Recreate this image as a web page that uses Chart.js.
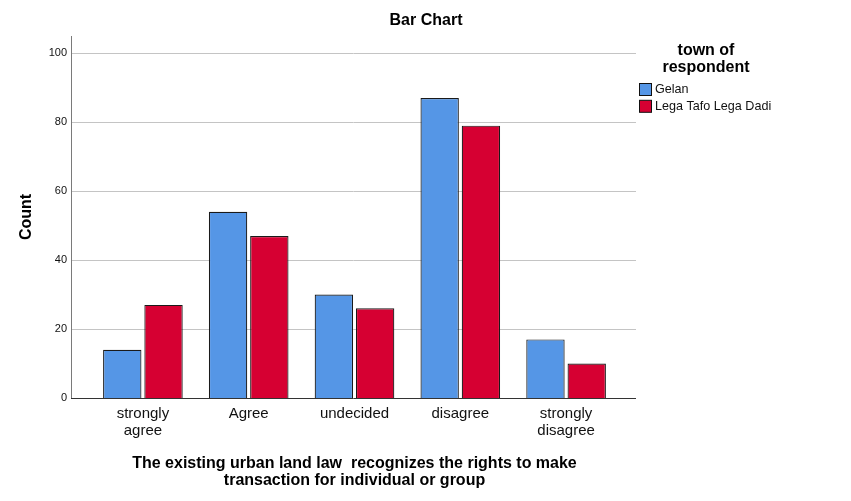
<!DOCTYPE html>
<html>
<head>
<meta charset="utf-8">
<script src="https://cdn.jsdelivr.net/npm/chart.js@4"></script>
<style>
  html, body { margin: 0; padding: 0; background: #ffffff; }
  canvas { display: block; }
</style>
</head>
<body>
<canvas id="c" width="851" height="501"></canvas>
<script>
// ---- data ----
const categories = [['strongly', 'agree'], 'Agree', 'undecided', 'disagree', ['strongly', 'disagree']];
const gelan = [14, 54, 30, 87, 17];
const legaTafoLegaDadi = [27, 47, 26, 79, 10];
const seriesNames = ['Gelan', 'Lega Tafo Lega Dadi'];
const legendTitle = ['town of', 'respondent'];
const chartTitle = 'Bar Chart';
const xTitle = ['The existing urban land law  recognizes the rights to make', 'transaction for individual or group'];
const yTitle = 'Count';

const FONT = '"Liberation Sans", Arial, Helvetica, sans-serif';
Chart.defaults.font.family = FONT;

const GRID_LEFT = 71, GRID_RIGHT = 636;

const frame = {
  id: 'frame',
  beforeDatasetsDraw(chart) {
    const ctx = chart.ctx, y = chart.scales.y, area = chart.chartArea;
    ctx.save();
    ctx.lineWidth = 1;
    ctx.strokeStyle = '#c4c4c4';
    y.ticks.forEach(t => {
      if (t.value === 0) return;
      const py = Math.round(y.getPixelForValue(t.value)) + 0.5;
      ctx.beginPath(); ctx.moveTo(GRID_LEFT, py); ctx.lineTo(GRID_RIGHT, py); ctx.stroke();
    });
    ctx.strokeStyle = '#7a7a7a';
    ctx.beginPath(); ctx.moveTo(GRID_LEFT + 0.5, area.top); ctx.lineTo(GRID_LEFT + 0.5, area.bottom); ctx.stroke();
    ctx.restore();
  },
  afterDatasetsDraw(chart) {
    const ctx = chart.ctx, area = chart.chartArea;
    ctx.save();
    ctx.lineWidth = 1;
    ctx.strokeStyle = '#333333';
    const py = Math.round(area.bottom) + 0.5;
    ctx.beginPath(); ctx.moveTo(GRID_LEFT, py); ctx.lineTo(GRID_RIGHT, py); ctx.stroke();
    ctx.restore();
  },
  afterDraw(chart) {
    const ctx = chart.ctx;
    ctx.save();
    ctx.fillStyle = '#000000';
    ctx.textAlign = 'center';
    ctx.textBaseline = 'middle';
    ctx.font = 'bold 16px ' + FONT;
    ctx.fillText(chartTitle, 426, 21);
    legendTitle.forEach((line, i) => ctx.fillText(line, 706, 51 + i * 16.5));
    ctx.font = '12.6px ' + FONT;
    ctx.textAlign = 'left';
    chart.data.datasets.forEach((ds, i) => {
      const by = 83.5 + i * 16.8;
      ctx.fillStyle = ds.backgroundColor;
      ctx.fillRect(639.5, by, 12, 12);
      ctx.strokeStyle = '#111111';
      ctx.lineWidth = 1;
      ctx.strokeRect(639.5, by, 12, 12);
      ctx.fillStyle = '#111111';
      ctx.fillText(ds.label, 655, by + 6.5);
    });
    ctx.restore();
  }
};

new Chart(document.getElementById('c'), {
  type: 'bar',
  data: {
    labels: categories,
    datasets: [
      { label: seriesNames[0], data: gelan, backgroundColor: '#5596e6', borderColor: '#1a1a1a', borderWidth: 1.2 },
      { label: seriesNames[1], data: legaTafoLegaDadi, backgroundColor: '#d60032', borderColor: '#1a1a1a', borderWidth: 1.2 }
    ]
  },
  options: {
    responsive: false,
    animation: false,
    events: [],
    categoryPercentage: 0.78,
    barPercentage: 0.93,
    layout: { padding: { left: 0, right: 232, top: 36, bottom: 0 } },
    plugins: {
      legend: { display: false },
      tooltip: { enabled: false },
      title: { display: false }
    },
    scales: {
      x: {
        grid: { display: false, drawTicks: false },
        border: { display: false },
        ticks: { color: '#111111', font: { size: 15, lineHeight: 1.15 }, padding: 7, maxRotation: 0, autoSkip: false },
        title: {
          display: true, text: xTitle, color: '#000000',
          font: { size: 16, weight: 'bold', lineHeight: 1.05 },
          padding: { top: 0, bottom: 12 }
        },
        afterFit(scale) { scale.height = 103; }
      },
      y: {
        min: 0, max: 105,
        grid: { display: false, drawTicks: false },
        border: { display: false },
        ticks: { stepSize: 20, color: '#111111', font: { size: 11 }, padding: 23 },
        afterBuildTicks(scale) { scale.ticks = scale.ticks.filter(t => t.value % 20 === 0); },
        title: {
          display: true, text: yTitle, color: '#000000',
          font: { size: 16, weight: 'bold', lineHeight: 1.2 },
          padding: { top: 17, bottom: 0 }
        },
        afterFit(scale) { scale.width = 90; }
      }
    }
  },
  plugins: [frame]
});
</script>
</body>
</html>
